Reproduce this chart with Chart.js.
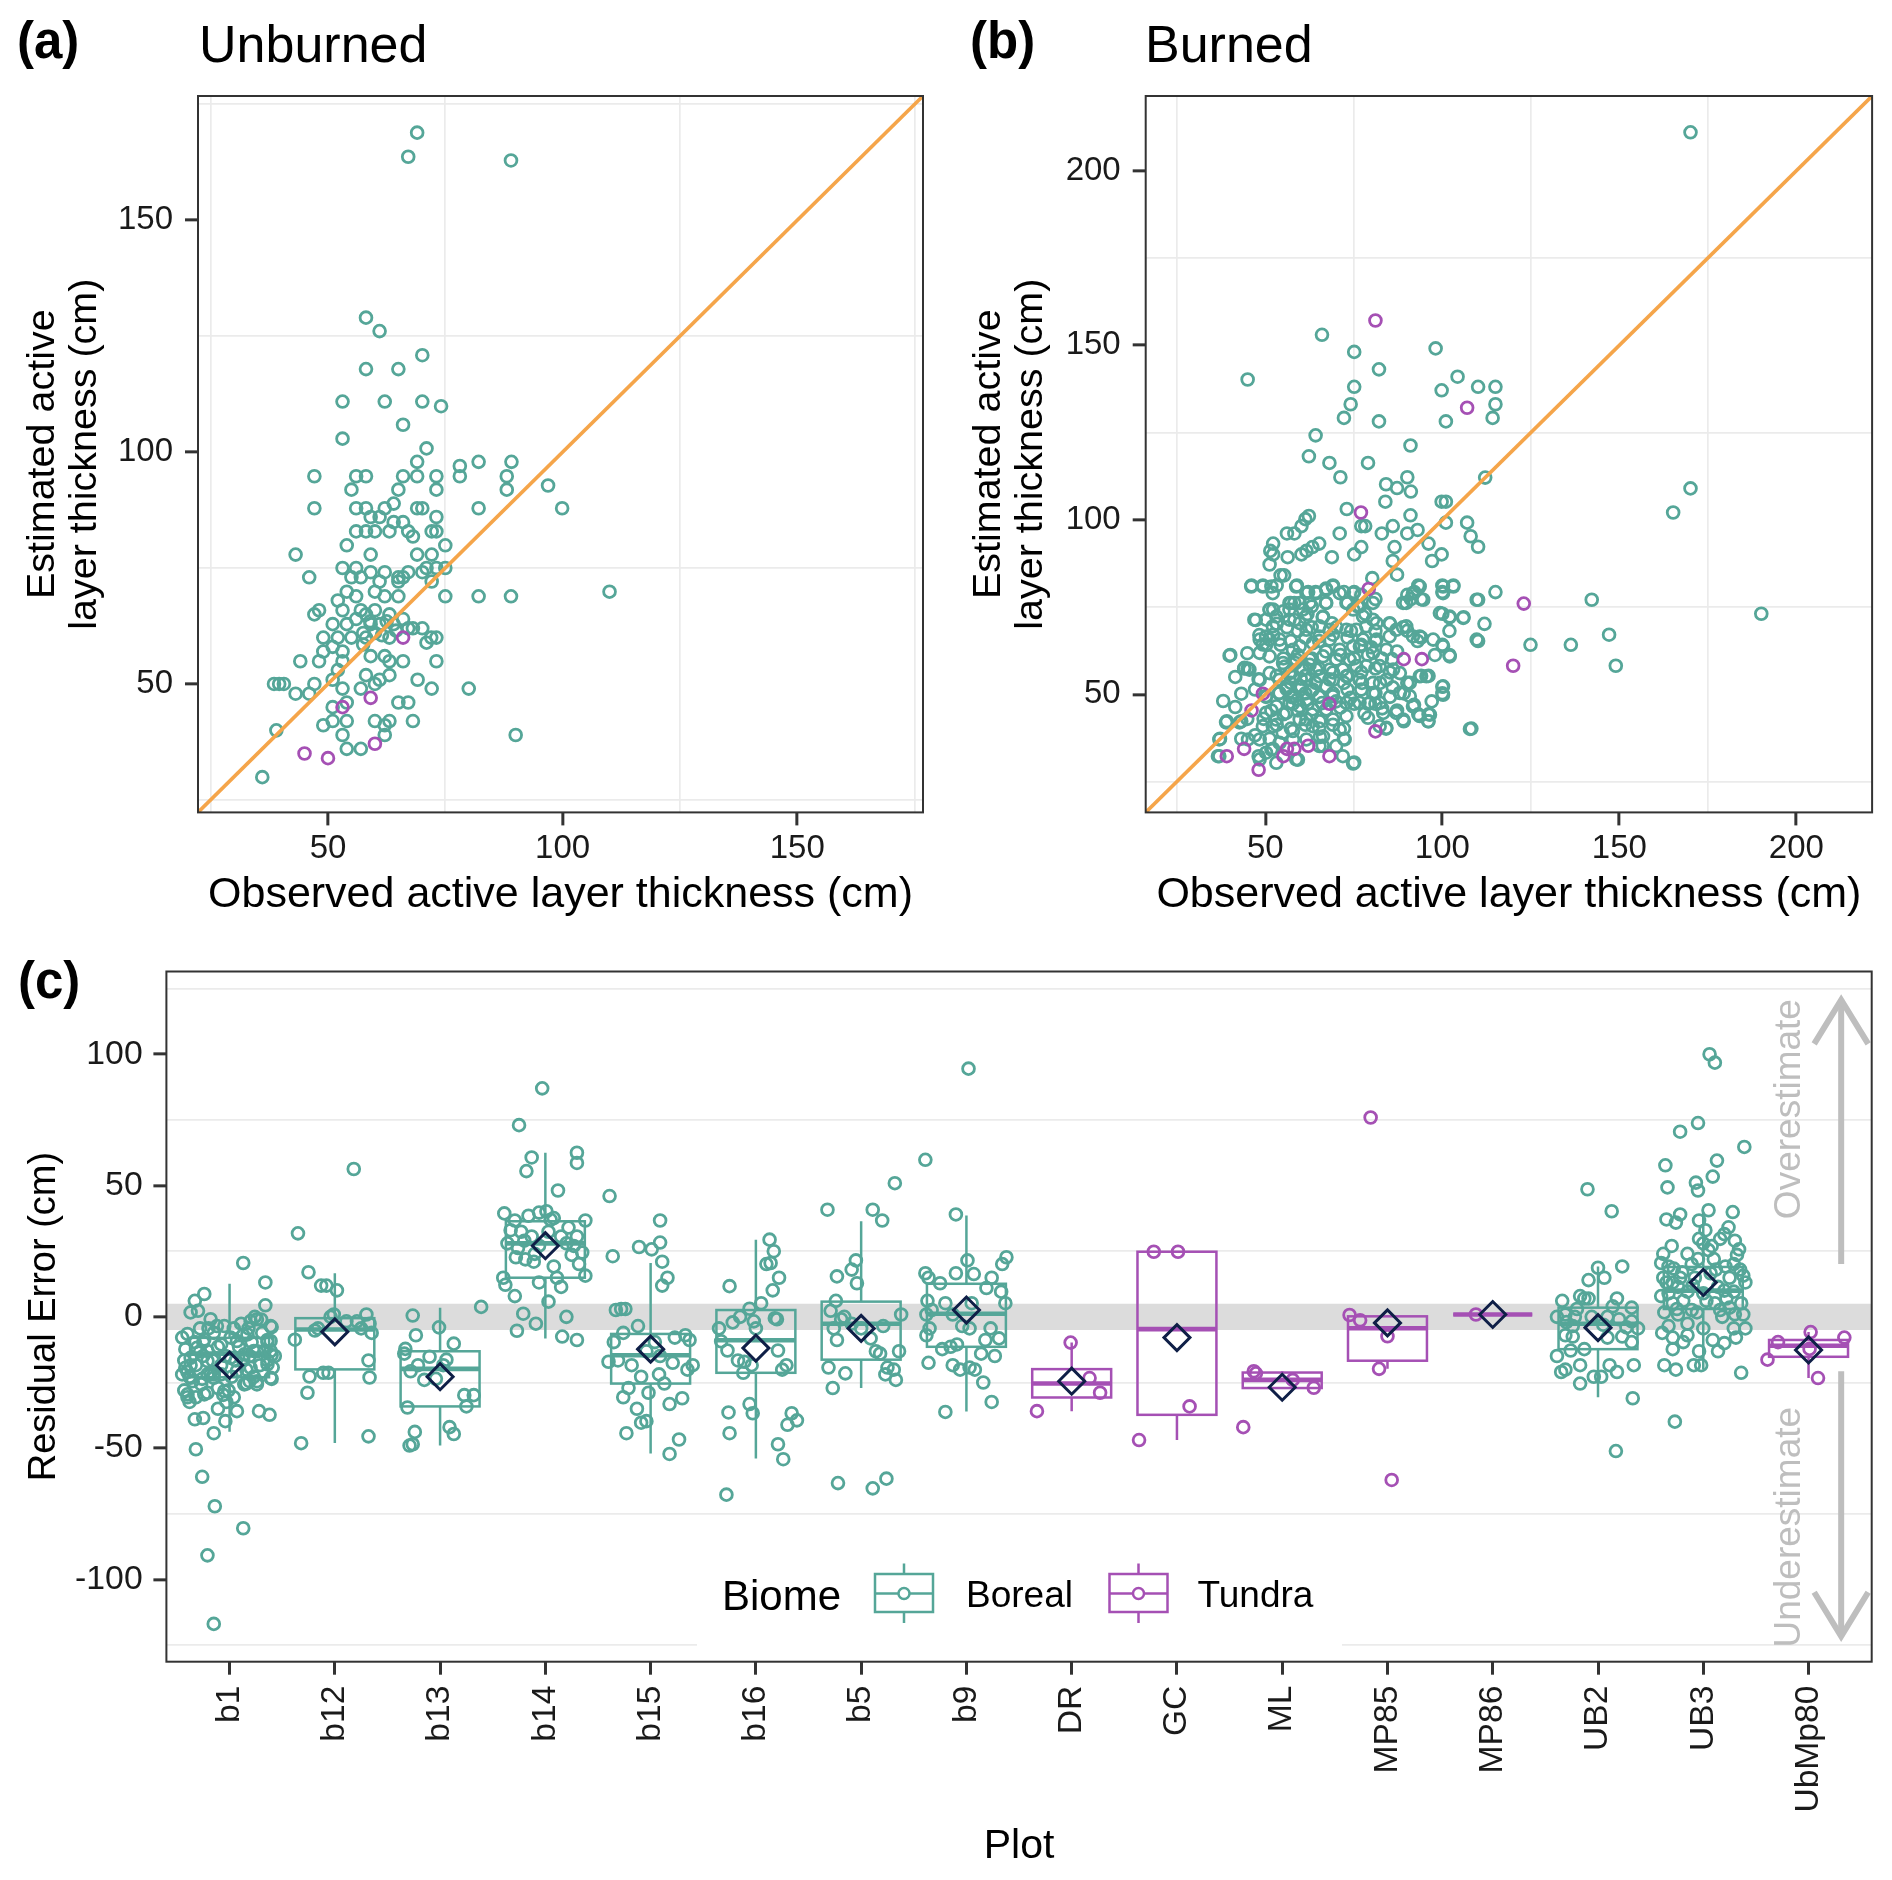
<!DOCTYPE html>
<html><head><meta charset="utf-8">
<script src="https://cdn.jsdelivr.net/npm/chart.js@4.4.1/dist/chart.umd.min.js"></script>
<style>
html,body{margin:0;padding:0;background:#fff;}
body{width:1892px;height:1880px;position:relative;overflow:hidden;}
.pane{position:absolute;}
canvas{display:block;}
</style></head><body>
<div class="pane" style="left:0;top:0;width:946px;height:940px"><canvas id="ca" width="946" height="940"></canvas></div>
<div class="pane" style="left:946px;top:0;width:946px;height:940px"><canvas id="cb" width="946" height="940"></canvas></div>
<div class="pane" style="left:0;top:940px;width:1892px;height:940px"><canvas id="cc" width="1892" height="940"></canvas></div>
<script>
// ---------------- DATA ----------------
// Panel (a) Unburned: [observed, estimated]
const unburnedBoreal = [[69,168.9],[67.1,163.7],[89,162.9],[58.1,129],[61,126.1],[70.1,120.9],[58.1,117.9],[65,117.9],[53.1,110.9],[62.1,110.9],[70.1,110.9],[74.1,109.9],[66,105.9],[53.1,102.9],[71,100.8],[69,97.9],[78.1,97],[82.1,97.9],[89.1,97.9],[78.1,94.8],[88.1,94.8],[88.1,91.9],[96.9,92.8],[99.9,87.9],[82.1,87.9],[47.1,94.8],[47.1,87.9],[56,94.8],[58.1,94.8],[55,91.9],[66,94.8],[69,94.8],[73.1,94.8],[73.1,91.9],[65,91.9],[56,87.9],[58.1,87.9],[62.1,87.9],[64,88.9],[69,87.9],[70.1,87.9],[73.1,86],[59.1,86],[61,86],[64,84.9],[66,84.9],[56,82.9],[58.1,82.9],[60,82.9],[63.1,82.9],[67.1,82.9],[68.1,81.8],[72.1,82.9],[73.1,82.9],[54,79.9],[59.1,77.9],[69,77.9],[72.1,77.9],[75,79.9],[43.1,77.9],[53.1,75],[56,75],[59.1,74.1],[62.1,74.1],[65,73],[67.1,74.1],[70.1,74.1],[71,75],[75,75],[73.1,75],[55,73],[57,73],[46,73],[61,72.1],[65,72.1],[66,73],[72.1,72.1],[75,68.9],[82.1,68.9],[89,68.9],[110,69.9],[60,69.9],[62.1,68.9],[65,68.9],[52.1,68],[54,69.9],[56,68.9],[47.1,65],[48.1,65.9],[53.1,65.9],[57,65.9],[58.1,65],[60,65.9],[63.1,65],[66,64],[51,62.9],[54,62.9],[56,64],[59.1,62.9],[61,62.9],[64,62.9],[67.1,62],[70.1,62],[49,60],[52.1,60],[55,60],[58.1,60],[60,61],[63.1,60],[68.1,62],[73.1,60],[71,58.9],[72,60],[49,57],[51,58],[53.1,57],[59.1,56],[62.1,56],[63.1,54.9],[66,54.9],[73.1,54.9],[44.1,54.9],[48.1,54.9],[52.1,53],[53.1,54.9],[51,50.9],[43.1,47.9],[46,47.9],[47.1,50],[38.5,50],[39.6,50],[40.6,50],[58.1,51.9],[61,50.9],[63.1,51.9],[60,50],[69.1,50.9],[72.1,49],[80,49],[53.1,49],[57,49],[65,46],[67.1,46],[51,45],[54,46],[51,42],[49,41.1],[54,42],[60,42],[63.1,42],[62.1,41.1],[68.1,42],[53.1,39],[62.1,39],[54,36],[57,36],[39,40],[90,39],[36,29.9],[57.5,61],[59,63.5],[61.5,60.5],[64.5,61.5],[62.5,63.5],[57.5,58.5]];
const unburnedTundra = [[53.1,45],[59.1,47],[60,37.1],[45,35],[50,34],[66,60]];

// Panel (b) Burned: [observed, estimated]
const burnedBoreal = [[170.1,211],[165.2,102.1],[170.1,109],[190.1,73.1],[142.2,77.1],[147.1,67.1],[149,58.2],[136.3,64.2],[124.9,64.2],[108.2,40.2],[45,140.2],[66,153],[75.1,148.1],[98.1,149.1],[82.1,143.1],[75.1,138.1],[99.8,137.1],[104.3,141],[110.1,138.1],[115,138.1],[115,133.1],[114.2,129.2],[101,128.2],[82.1,128.2],[74.1,133.1],[72.2,129.2],[64.2,124.2],[62.3,118.2],[68.1,116.3],[79,116.3],[91,121.3],[71.2,112.2],[90.1,112.2],[84.1,110.2],[87.2,109.1],[91.1,108.1],[83.9,105.2],[112.1,112.1],[99.8,105.2],[101,105.2],[73,103.1],[91,101.3],[107,99.2],[108,95.3],[110.1,92.3],[101,99.2],[99.8,90.1],[96.1,93.2],[97.1,88.2],[93,97.1],[90.1,96.1],[86,98.2],[82.9,96.1],[77.1,98.2],[78.2,98.2],[77.1,92.2],[75.1,90.1],[71,96.1],[68.8,89.3],[86.5,92.2],[86,88.2],[87.2,84.3],[80.2,83.3],[61.3,100.2],[62.3,101.1],[60.2,98.2],[56.1,96.1],[58.2,96.1],[65.2,93.2],[61.6,91.1],[63.3,92.2],[60.2,90.1],[56.3,89.3],[52.2,93.2],[52.2,90.1],[51.4,91.1],[51.2,87.2],[55.3,84.1],[54.3,84.1],[46.1,81.2],[49.3,81.2],[53.2,81.2],[58.9,81.2],[62.1,79.3],[64.2,79.3],[67.1,80.3],[69.1,81.2],[72.2,79.3],[75.1,79.3],[77.1,78.5],[81.1,77.3],[76.1,75.2],[78.2,73.1],[73.2,76.2],[67.1,76.2],[63.1,75.2],[58.2,76.2],[57.2,76.2],[52.2,74.3],[51.2,74.3],[47.3,71.3],[53.2,70.2],[58.2,71.3],[61.3,72.1],[66.2,72.1],[70.1,69.2],[74.2,68.2],[81.1,68.2],[85.2,70.2],[88.9,69.2],[90.1,68.2],[88.9,76.2],[91.1,77.3],[92.1,79.3],[93.2,81.2],[90.1,78.5],[94,77.3],[100,81.2],[103.1,81.2],[100,79.3],[110.1,77.1],[115,79.3],[111.9,70.2],[110.1,65.3],[106,72.1],[100,73.1],[102,72.1],[102,68.2],[100,64.2],[102,61.3],[97.9,61.3],[94,66.3],[93,65.3],[40.1,61.3],[44,57.4],[45,57.4],[48.1,54.3],[43.2,50.2],[47.1,51.4],[39.1,42.3],[43.2,42.3],[37.2,37.3],[37,32.3],[43.2,37.3],[48.1,32.3],[47.1,38.3],[51.2,37.3],[52.2,34.4],[59.2,31.3],[66.2,35.3],[72.2,37.3],[75.1,30.5],[53.2,41.3],[57.2,40.2],[61.3,41.3],[65.2,40.2],[69.1,41.3],[72.2,40.2],[51.7,45.4],[55.1,44.3],[59.2,45.4],[63.1,44.3],[67.1,45.4],[71.2,46.2],[75.1,47.3],[79,47.3],[81.1,47.3],[50.2,49.3],[53.8,50.3],[57.2,49.3],[61.3,50.3],[65.2,49.3],[69.1,50.3],[73.2,51.4],[77.1,51.4],[81.1,50.3],[85.2,49.3],[89.1,50.3],[90.1,53.3],[94,55.3],[96.1,55.3],[100,52.2],[100,50.3],[87.2,45.4],[89.1,42.3],[93.2,44.3],[96.1,44.3],[96.1,42.3],[84.1,40.2],[53.2,55.3],[57.2,56.3],[61.3,55.3],[65.2,57.4],[69.1,56.3],[73.2,55.3],[77.1,56.3],[81.1,57.4],[85.2,56.3],[55.1,60.3],[59.2,61.3],[63.1,60.3],[67.1,62.3],[71.2,61.3],[75.1,60.3],[79,61.3],[82.9,60.3],[87.2,62.3],[57.2,65.3],[61.3,66.3],[65.2,65.3],[69.1,67.1],[73.2,66.3],[77.1,64.2],[81.1,65.3],[54.3,64.2],[50.2,64.2],[52.2,67.1],[56.1,69.2],[59.2,68.2],[63.1,69.2],[57.2,53.3],[60.2,52.2],[64.2,53.3],[68.1,54.3],[72.2,53.3],[61.9,47.3],[57.7,47.3],[65.4,37.8],[79,43.3],[77.3,53.3],[82.4,53.3],[85.8,60.1],[79.9,63.5],[68.8,70.4],[61.9,73],[55.1,73.8],[48.3,67],[44.9,61.8],[41.5,55],[38.1,48.1],[41.5,46.4],[44.9,43],[49.5,43],[55.5,58],[58.5,59],[60.5,57],[62.5,58.5],[58,55],[60,54.5],[56,51.5],[59,48.5],[63,51],[66,47.5],[70,48],[74,49],[78,44.5],[83,46],[86,52],[92,47],[97,48],
[39.9,61.1],[44.1,57.6],[45.5,57.1],[48.4,54.2],[38.9,42],[42.7,42],[37,37.1],[36.6,32.3],[48.4,31.4],[45.1,37.1],[48.4,37.1],[51.7,34.2],[74.8,30.2],[72.4,37.1],[71,39.9],[66.3,38],[63.4,40.9],[59.7,42.8],[55.9,44.7],[53.1,46.6],[50.2,44.7],[49.3,40.9],[52.1,40.9],[54.9,39],[57.8,39.5],[61.6,42.8],[65.3,42.3],[69.1,42.8],[72.9,43.8],[50.2,49.5],[54,50.4],[57.8,49.5],[61.6,48.5],[65.3,49.5],[69.1,49.5],[72.9,47.6],[76.6,47.6],[79.5,47.6],[82.3,47.6],[54,54.2],[57.8,55.2],[61.6,54.2],[65.3,55.2],[69.1,54.2],[72.9,55.2],[76.6,54.2],[80.4,53.3],[84.2,54.2],[88,56.1],[90.8,53.3],[93.6,55.2],[95.5,55.2],[88,50.4],[90.8,49.5],[91.7,46.6],[87,44.7],[88.9,42.8],[93.6,43.8],[96.5,44.2],[96,42.3],[100.2,52.3],[100.2,49.9],[83.3,44.7],[82.3,40.9],[84.2,40.4],[80.4,50.4],[78.5,58.1],[82.3,58.1],[86.1,57.1],[80.4,61.9],[84.2,62.8],[74.8,63.8],[76.7,63.8],[71,62.8],[68.2,65.7],[65.3,66.6],[63.4,64.7],[59.7,63.8],[57.8,62.8],[54,65.7],[51.2,65.7],[49.3,64.3],[48.4,61.9],[51.2,60.9],[50.2,66.6],[52.1,69.5],[50.2,71.4],[53.1,72.3],[56.8,71.4],[59.7,70.4],[61.6,68.5],[65.3,69.5],[68.2,68.5],[72.9,68.5],[75.7,68.5],[78.5,69.5],[81.4,70.4],[85.1,70.4],[87,68.5],[89.8,69.5],[91.7,66.6],[93.6,66.6],[97.4,65.7],[100.2,63.8],[102.1,60.9],[107.8,40.1],[85.1,66.6],[81.4,65.7],[77.6,65.7],[73.8,60],[70,60],[66.3,60.9],[62.5,60],[58.7,60],[55,59],[56.8,56.1],[60.6,57.1],[64.4,57.1],[68.2,57.1],[71.9,57.1],[75.7,58.1],[51.2,56.1],[46,80.9],[49.3,80.9],[51.7,80.9],[52.1,79],[58.7,80.9],[61.6,79],[64.4,79],[67.2,80],[69.1,80.9],[71,79],[74.8,79],[56.8,76.2],[59.7,76.2],[62.5,76.2],[67.2,76.2],[72.9,76.2],[76.7,75.2],[80.4,76.2],[89.8,76.2],[91.7,79],[94.6,77.1],[93.6,80.9],[100.2,80.9],[103.1,80.9],[100.2,79],[51.2,74.3],[56.8,74.3],[60.6,74.3],[66.3,72.3],[74.8,74.3],[77.6,72.3],[80.4,71.4],[99.3,73.3],[102.1,72.3],[105.9,71.9],[109.7,77.1],[109.7,65.7],[46.9,71.4],[48.4,65.7],[55.9,52.3],[59.7,52.3],[63.4,51.4],[67.2,52.3],[59.7,46.6],[63.4,45.7],[67.2,45.7],[56.8,47.6],[53.1,42.8],[57.8,37.1],[61.6,37.1],[65.3,35.2],[70,35.2],[54,36.1],[50.2,33.3],[53.1,30.4],[58.7,31.4],[71.9,32.3]];
const burnedTundra = [[81.1,157.1],[107,132.1],[77,102.1],[79.2,80.2],[123,76],[89.1,60.1],[94.2,60.1],[120,58.2],[49.3,50.2],[46.1,45.4],[68.1,47.3],[39.1,32.3],[44,34.4],[48.1,28.4],[56.1,34.4],[55.1,32.3],[58.2,34.4],[62.1,35.3],[68.1,32.3],[81.1,39.4]];

// Panel (c) plots
const plots = ['b1','b12','b13','b14','b15','b16','b5','b9','DR','GC','ML','MP85','MP86','UB2','UB3','UbMp80'];
const biome = ['Boreal','Boreal','Boreal','Boreal','Boreal','Boreal','Boreal','Boreal','Tundra','Tundra','Tundra','Tundra','Tundra','Boreal','Boreal','Tundra'];
const boxQ1      = [-23, -20, -34.1, 14.9, -25.4, -21.3, -16.3, -11.4, -30.7, -37.3, -27.1, -16.7, 0.9, -12.3, 3, -15.2];
const boxMedian  = [-14, -4.8, -19.8, 28, -14.6, -8.9, -2.6, 1.2, -25.4, -4.65, -24, -4.35, 0.9, -2.6, 10, -11];
const boxQ3      = [-8, -0.5, -13.1, 36.4, -6.5, 2.6, 5.8, 12.6, -19.9, 24.8, -21.2, 0.2, 0.9, 3.5, 19, -8.8];
const whiskerLow = [-43.7, -48, -49, -8.2, -52, -53.9, -27.1, -36, -35.9, -46.9, -27.1, -19.8, 0.9, -30.6, -20, -23.3];
const whiskerHigh= [12.6, 16.6, 3.5, 62.5, 20.5, 29.4, 36.4, 38.6, -9.8, 24.8, -20.7, 0.7, 0.9, 19.2, 40, -5.8];
const meanResid  = [-18.4, -5.7, -22.8, 27.1, -12.3, -11.9, -4.4, 2.6, -24.5, -7.9, -26.8, -2.3, 0.9, -4.1, 13.1, -12.6];
const bandRange = [-5, 5];

// residuals per plot: [jitter offset, residual (cm)]
const res_b1 = [[.13,20.5],[.34,13.1],[.34,4.4],[-.24,8.7],[-.33,6.1],[-.37,1.7],[-.3,2.3],[-.18,-.9],[-.4,-6.5],[.4,-3.9],[.26,-.9],[.36,-9.6],[.4,-14.5],[.4,-23.6],[.26,-24.5],[.16,-25.4],[.28,-35.9],[.38,-37.3],[.07,-35.9],[-.04,-39.7],[-.11,-35],[-.15,-44.3],[-.25,-38.5],[-.33,-39],[-.38,-32.4],[-.4,-30.6],[-.32,-50.4],[-.26,-60.9],[-.14,-72.1],[.13,-80.5],[-.21,-90.8],[-.15,-116.9],[-.45,-7.9],[-.42,-12.3],[-.43,-16.6],[-.4,-21],[-.38,-22.8],[-.35,-24.5],[-.32,-18.4],[-.28,-13.1],[-.25,-9.6],[-.2,-4.4],[-.15,-6.1],[-.11,-11.4],[-.16,-16.6],[-.18,-21.9],[-.11,-27.1],[-.06,-29.7],[-.01,-28],[.02,-22.8],[.06,-16.6],[.09,-11.4],[.13,-7],[.18,-4.4],[.21,-9.6],[.19,-14.9],[.16,-20.1],[.23,-22.8],[.29,-18.4],[.33,-13.1],[.36,-8.8],[.31,-6.1],[.43,-14.9],[.41,-19.3],[.11,-2.6],[.24,0],[.01,-7.9],[-.04,-14.9],[-.25,-14.9],[-.33,-9.6],[-.37,-18.4],[.04,-30.6],[-.03,-32.4],[-.26,-23.6],[-.21,-28.9],[-.45,-21.9],[-.43,-28],[-.32,-30.6],[-.08,-18.4],[.13,-16.6],[.26,-13.1],[-.15,-21.9],[.19,-24.5],[-.28,-4.4],[.36,-16.6],[.04,-4.4],
  [-.24,-8.6],[-.12,-3.5],[-.05,-3.5],[.2,-1.6],[.3,-1],[.39,-3.5],[-.31,-11.8],[-.21,-13],[-.08,-10.5],[.07,-9.2],[.17,-6.7],[.39,-9.2],[.39,-13],[.23,-13],[.14,-14.3],[.01,-15.6],[-.21,-16.8],[-.37,-15.6],[-.42,-19.4],[-.37,-23.2],[-.21,-21.9],[-.08,-21.9],[.07,-20.6],[.2,-19.4],[.36,-18.1],[.39,-23.2],[.26,-25.7],[.14,-25.7],[-.15,-23.2],[-.27,-25.7],[-.4,-29.5],[-.24,-29.5],[-.05,-28.3]];
const res_b12 = [[.18,56.3],[-.35,31.8],[-.25,17],[-.13,11.9],[-.08,11.9],[.02,10.1],[-.38,-8.7],[-.24,-22.7],[-.26,-28.9],[-.11,-21.3],[-.06,-21.3],[.33,-23.1],[.32,-16.6],[-.32,-48.1],[.32,-45.5],[-.04,0],[-.01,.9],[-.19,-5.2],[.11,-1.7],[.21,-1.7],[.3,.9],[.33,-2.6],[.25,-4.4],[.35,-6.1],[-.16,-4.4]];
const res_b13 = [[-.26,.5],[-.01,-4],[-.23,-7],[.13,-10.2],[.39,3.8],[-.33,-12.2],[-.34,-14],[-.21,-18.4],[-.28,-20.7],[-.1,-15.2],[.06,-16.3],[-.15,-24],[-.31,-34.5],[.23,-29.8],[.32,-29.8],[.25,-34.1],[.09,-42],[.13,-44.6],[-.24,-43.8],[-.29,-49],[-.26,-48.5],[-.04,-23.6],[.03,-18.4]];
const res_b14 = [[-.03,87],[-.25,73],[-.13,60.7],[-.18,55.5],[.3,62.5],[.3,58.6],[.12,48.1],[-.39,39.4],[-.29,36.7],[-.16,38.5],[-.06,39.7],[.01,40.2],[.08,37.6],[.38,36.7],[.3,30.6],[.35,24.5],[-.36,28],[-.26,26.2],[-.19,21.9],[-.28,22.7],[-.11,21],[.08,19.2],[.2,28],[.25,23.6],[.38,15.7],[-.4,14.9],[-.38,12.2],[-.06,13.1],[.11,14.9],[.15,11.4],[-.29,7.9],[-.21,1.2],[.03,5.8],[.2,0],[-.27,-5.3],[-.09,-2.6],[.16,-7.5],[.3,-8.8],[-.13,30.6],[.03,32.4],[-.23,32.4],[-.06,27.1],[.15,30.6],[.32,20.1],[-.33,33],[.22,34],[-.1,24],[.27,27],[-.2,29],[.05,37]];
const res_b15 = [[-.39,46],[-.36,23.1],[-.11,26.6],[.01,25.7],[.09,36.7],[.09,28.3],[.11,21],[.16,14.9],[.11,11.9],[-.33,2.6],[-.28,3],[-.24,3],[-.12,-3.5],[-.35,-9.6],[-.26,-6.1],[-.4,-17.1],[-.31,-16.6],[-.18,-18.4],[-.09,-22.8],[-.21,-27.1],[-.26,-30.6],[-.13,-35],[-.09,-40.3],[-.23,-44.3],[-.04,-39.7],[.18,-33.2],[.3,-31],[.27,-46.7],[.18,-52.2],[.23,-7.9],[.33,-7],[.37,-8.8],[.4,-18.4],[.21,-17.5],[.35,-20.1],[.13,-25.4],[.08,-21.9],[-.04,-13.1],[.04,-9.6],[-.02,-28.9],[.09,-14.9]];
const res_b16 = [[.13,29.4],[.17,25],[.1,20.1],[.14,20.5],[.22,14.9],[.16,10.1],[-.25,11.7],[.05,5.2],[-.06,3.1],[-.15,0],[.2,-.9],[-.22,-2.1],[-.35,-4.4],[-.02,-1.7],[0,-4.4],[.18,-.5],[-.33,-9.3],[-.27,-12.8],[-.17,-16.6],[-.11,-17.1],[.21,-12.8],[.29,-18.4],[.25,-20.1],[-.12,-21.3],[-.04,-18.4],[-.06,-33.2],[-.03,-36.7],[-.26,-36.4],[-.25,-44.3],[.34,-36.7],[.3,-41.1],[.39,-39.4],[.21,-48.5],[.26,-54.2],[-.28,-67.7]];
const res_b5 = [[-.32,40.8],[.11,40.8],[.2,36.7],[.32,50.9],[-.05,21.5],[-.09,18],[-.04,12.8],[-.23,15.4],[-.24,6.1],[-.29,2.3],[-.19,-.9],[-.16,0],[-.09,-2.6],[.21,-3.5],[.38,.9],[.36,-13.1],[-.26,-4.4],[-.23,-8.8],[.09,-8.2],[.14,-13.1],[.18,-14],[.25,-19.3],[.31,-20.1],[.23,-21.9],[.33,-24],[-.31,-19.3],[-.15,-21.5],[-.27,-27.1],[-.22,-63.3],[.11,-65.3],[.24,-61.6],[0,-4.4]];
const res_b9 = [[.02,94.5],[-.39,59.8],[-.1,39],[.01,21.5],[.38,22.7],[.34,20.1],[-.1,16.6],[.07,16.3],[.24,14.9],[-.39,16.6],[-.36,14.9],[-.25,12.8],[.19,11],[.33,9.6],[.37,5.2],[-.37,6.1],[-.33,2.6],[-.2,5.2],[.05,5.2],[-.38,.9],[-.13,.9],[-.04,-3.5],[.03,-4.4],[.23,-4.4],[-.35,-4.4],[-.38,-7],[.18,-8.8],[.31,-8.2],[-.23,-12.3],[-.15,-11.4],[-.09,-10.5],[.14,-14],[.27,-14.9],[-.36,-17.5],[-.13,-18.4],[-.06,-20.1],[.03,-19.3],[.08,-20.1],[.16,-25],[.24,-32.4],[-.2,-36.2]];
const res_DR = [[-.01,-9.8],[.17,-23.3],[.27,-28.9],[-.33,-35.9]];
const res_GC = [[-.22,24.8],[.01,24.8],[.12,-34.1],[-.36,-46.9]];
const res_ML = [[-.27,-20.7],[-.25,-21.5],[.1,-24],[.3,-27],[-.37,-42]];
const res_MP85 = [[-.16,75.9],[-.36,.7],[-.26,-1.3],[0,-7.4],[-.08,-19.8],[.04,-62.1]];
const res_MP86 = [[-.16,.9]];
const res_UB2 = [[-.1,48.6],[.13,40.2],[.23,19.2],[0,18.7],[-.09,14],[.06,14.9],[-.17,7.9],[-.13,7],[-.09,7],[-.34,6.1],[.18,7],[.32,3.5],[-.39,0],[-.31,.9],[-.22,0],[-.06,0],[.09,0],[.2,-.9],[.32,-1.7],[.38,-4.4],[-.24,-3.5],[-.31,-7],[-.24,-7.5],[.09,-7.9],[.23,-7.5],[.32,-9.6],[-.13,-12.3],[-.26,-12.8],[-.39,-14.9],[-.17,-18.4],[-.31,-20.1],[-.35,-21],[.11,-18.4],[.18,-21],[.34,-18.4],[-.04,-22.8],[.03,-22.8],[-.17,-25.4],[.33,-31],[.17,-51.1],[-.2,3],[.27,-4],[.05,-3],[-.3,-2],[.14,4]];
const res_UB3 = [[.06,100],[.11,96.8],[-.05,73.8],[-.22,70.5],[.39,64.7],[.13,59.5],[-.36,57.7],[.09,53.4],[-.34,49.3],[-.07,51.1],[-.05,48.1],[.05,40.6],[.28,39.9],[-.35,37.1],[-.26,35.9],[-.22,39],[-.04,36.7],[.24,34.1],[.2,31.5],[.16,29.7],[.34,25.7],[-.04,29.7],[0,28],[.05,25.4],[.32,23.6],[-.4,20.5],[-.33,19.2],[-.28,18.4],[-.11,20.1],[.21,19.2],[.38,15.7],[.4,13.1],[-.35,13.1],[-.24,11.4],[-.15,9.6],[.14,11.4],[.29,9.6],[-.4,7.9],[-.29,5.2],[-.19,6.1],[.11,5.2],[.36,5.2],[.25,3.5],[-.37,1.7],[-.24,.9],[-.06,1.7],[.18,0],[.38,.9],[-.33,-3.5],[-.15,-2.6],[0,-4.4],[.29,-4.4],[.4,-4.4],[-.39,-6.1],[-.29,-7.9],[-.19,-9.6],[.09,-8.8],[.31,-7.9],[-.29,-12.3],[-.04,-13.1],[.14,-13.1],[-.37,-18.4],[-.26,-20.1],[-.09,-18.4],[-.02,-18.4],[.36,-21.3],[-.27,-39.9],[-.29,13.1],[-.08,14.9],[.07,16.6],[.25,14.9],[-.22,14.9],[.29,20.1],[-.38,14.9],[.03,6.1],[-.11,2.6],[.16,2.6],[.1,22],[-.15,24],[.2,10],[-.3,27],[.3,29],[0,9],[-.2,17],[.12,18],[-.33,9],[-.1,12],[.22,7],[.35,18],[-.05,22],[.08,27],[-.25,3],[.3,1],[-.15,-7],[.2,-10],[-.38,24],[.02,33]];
const res_UbMp80 = [[-.39,-16.3],[-.29,-9.6],[.02,-5.8],[.34,-7.9],[.09,-23.3],[.01,-12.2]];
const plotResiduals = [res_b1,res_b12,res_b13,res_b14,res_b15,res_b16,res_b5,res_b9,res_DR,res_GC,res_ML,res_MP85,res_MP86,res_UB2,res_UB3,res_UbMp80];

// axis ticks
const ticksA = [25,50,75,100,125,150,175];
const majorA = [50,100,150];
const limA = [22.3, 176.8];
const ticksB = [25,50,75,100,125,150,175,200];
const majorB = [50,100,150,200];
const limB = [16.2, 221.4];
const ticksC = [-125,-100,-75,-50,-25,0,25,50,75,100,125];
const majorC = [-100,-50,0,50,100];
const limC = [-131.3, 131.5];
const oneToOne = [0, 250];

// ---------------- STYLE ----------------
const FONT = "'Liberation Sans', Arial, Helvetica, sans-serif";
const TEAL = '#55A698', PURPLE = '#A550B4', NAVY = '#0F1F47', ORANGE = '#F5A54A';
const GRID = '#EBEBEB', DARK = '#333333', TXT = '#1A1A1A', ANNO = '#BEBEBE';
const NONE = 'rgba(0,0,0,0)';
const PT_R = 5.9, PT_W = 2.8;
Chart.defaults.font.family = FONT;
Chart.defaults.color = TXT;

const decoPlugin = {
  id: 'deco',
  afterDraw(chart, args, o) {
    const {ctx, chartArea: a} = chart;
    ctx.save();
    ctx.strokeStyle = DARK; ctx.lineWidth = 2;
    ctx.strokeRect(a.left, a.top, a.right - a.left, a.bottom - a.top);
    ctx.fillStyle = '#000';
    ctx.textBaseline = 'alphabetic'; ctx.textAlign = 'left';
    if (o.tag) { ctx.font = 'bold 51px ' + FONT; ctx.fillText(o.tag, o.tagX, o.tagY); }
    if (o.title) { ctx.font = '52px ' + FONT; ctx.fillText(o.title, o.titleX, o.titleY); }
    ctx.restore();
  }
};

function pairs(arr) { return arr.map(([x, y]) => ({x, y})); }

function axisCommon(ticks, major, lim, afterFit, titleText, titleFont, titlePad, tickPad) {
  return {
    type: 'linear', min: lim[0], max: lim[1],
    afterBuildTicks: s => { s.ticks = ticks.map(v => ({value: v})); },
    afterFit,
    ticks: { autoSkip: false, maxRotation: 0, minRotation: 0, padding: tickPad, font: {size: 33}, color: TXT,
             callback: v => major.includes(v) ? String(v) : '' },
    grid: { color: c => (c.tick && major.includes(c.tick.value)) ? NONE : GRID, lineWidth: 1.7,
            tickColor: c => (c.tick && major.includes(c.tick.value)) ? DARK : NONE,
            tickLength: 13, tickWidth: 3, drawTicks: true },
    border: { display: false },
    title: { display: true, text: titleText, font: titleFont, padding: titlePad, color: '#000' }
  };
}

function scatterChart(id, boreal, tundra, ticks, major, lim, yW, padRight, deco) {
  return new Chart(document.getElementById(id), {
    type: 'scatter',
    data: { datasets: [
      { type: 'line', data: pairs([[oneToOne[0], oneToOne[0]], [oneToOne[1], oneToOne[1]]]), borderColor: ORANGE, borderWidth: 3.6,
        pointRadius: 0, fill: false, clip: 0 },
      { data: pairs(tundra), pointStyle: 'circle', radius: PT_R, borderWidth: PT_W, borderColor: PURPLE, backgroundColor: NONE },
      { data: pairs(boreal), pointStyle: 'circle', radius: PT_R, borderWidth: PT_W, borderColor: TEAL, backgroundColor: NONE }
    ]},
    options: {
      responsive: false, animation: false, devicePixelRatio: 1, events: [],
      layout: { padding: { left: 0, top: 96, right: padRight, bottom: 0 } },
      plugins: { legend: { display: false }, tooltip: { enabled: false }, deco },
      scales: {
        x: axisCommon(ticks, major, lim, s => { s.height = 127.6; }, 'Observed active layer thickness (cm)',
                      {size: 43, lineHeight: 1.2}, {top: 0, bottom: 19}, 4),
        y: axisCommon(ticks, major, lim, s => { s.width = yW; }, ['Estimated active', 'layer thickness (cm)'],
                      {size: 39.5, lineHeight: 1.06}, {top: 22, bottom: 0}, 12)
      }
    },
    plugins: [decoPlugin]
  });
}

scatterChart('ca', unburnedBoreal, unburnedTundra, ticksA, majorA, limA, 198, 23,
  { tag: '(a)', tagX: 17, tagY: 57.6, title: 'Unburned', titleX: 199, titleY: 61.7 });
scatterChart('cb', burnedBoreal, burnedTundra, ticksB, majorB, limB, 199.7, 19.9,
  { tag: '(b)', tagX: 24, tagY: 57.6, title: 'Burned', titleX: 199, titleY: 61.7 });

// ---------------- PANEL C ----------------
const BOXW = 0.375;
const boxPlugin = {
  id: 'boxes',
  beforeDatasetsDraw(chart) {
    const {ctx, chartArea: a, scales: {x, y}} = chart;
    ctx.save();
    ctx.beginPath(); ctx.rect(a.left, a.top, a.right - a.left, a.bottom - a.top); ctx.clip();
    const yt = y.getPixelForValue(bandRange[1]), yb = y.getPixelForValue(bandRange[0]);
    ctx.fillStyle = '#DCDCDC'; ctx.fillRect(a.left, yt, a.right - a.left, yb - yt);
    plots.forEach((p, i) => {
      const col = biome[i] === 'Boreal' ? TEAL : PURPLE;
      const cx = x.getPixelForValue(i + 1), xl = x.getPixelForValue(i + 1 - BOXW), xr = x.getPixelForValue(i + 1 + BOXW);
      const y1 = y.getPixelForValue(boxQ1[i]), y3 = y.getPixelForValue(boxQ3[i]);
      const ym = y.getPixelForValue(boxMedian[i]);
      const wl = y.getPixelForValue(whiskerLow[i]), wh = y.getPixelForValue(whiskerHigh[i]);
      ctx.strokeStyle = col; ctx.lineWidth = 2.5;
      ctx.beginPath();
      ctx.moveTo(cx, y3); ctx.lineTo(cx, wh);
      ctx.moveTo(cx, y1); ctx.lineTo(cx, wl);
      ctx.stroke();
      ctx.strokeRect(xl, y3, xr - xl, y1 - y3);
      ctx.lineWidth = 4.6;
      ctx.beginPath(); ctx.moveTo(xl, ym); ctx.lineTo(xr, ym); ctx.stroke();
    });
    ctx.restore();
  },
  afterDatasetsDraw(chart) {
    const {ctx, chartArea: a, scales: {x, y}} = chart;
    ctx.save();
    // legend
    ctx.fillStyle = '#fff';
    ctx.fillRect(697, 605, 645, a.bottom - 1.5 - 605);
    ctx.fillStyle = '#000'; ctx.textBaseline = 'alphabetic'; ctx.textAlign = 'left';
    ctx.font = '42px ' + FONT; ctx.fillText('Biome', 722, 669.7);
    const keys = [['Boreal', TEAL, 875, 966], ['Tundra', PURPLE, 1109.5, 1197.5]];
    keys.forEach(([lab, col, bx, tx]) => {
      ctx.strokeStyle = col; ctx.lineWidth = 2.5;
      const w = 58, top = 634, bot = 672, mid = 653.6, cx = bx + w / 2;
      ctx.strokeRect(bx, top, w, bot - top);
      ctx.beginPath();
      ctx.moveTo(cx, top); ctx.lineTo(cx, 623.5);
      ctx.moveTo(cx, bot); ctx.lineTo(cx, 683);
      ctx.moveTo(bx, mid); ctx.lineTo(bx + w, mid);
      ctx.stroke();
      ctx.beginPath(); ctx.fillStyle = '#fff'; ctx.arc(cx, mid, 5.5, 0, Math.PI * 2); ctx.fill(); ctx.stroke();
      ctx.fillStyle = '#000'; ctx.font = '37px ' + FONT; ctx.fillText(lab, tx, 667.4);
    });
    // over/under estimate annotation
    const ax = x.getPixelForValue(16.31);
    const arrows = [[20.1, 120.7], [-20.7, -121.6]];
    ctx.strokeStyle = ANNO; ctx.lineWidth = 6; ctx.lineCap = 'butt'; ctx.lineJoin = 'miter';
    arrows.forEach(([v0, v1]) => {
      const p0 = y.getPixelForValue(v0), p1 = y.getPixelForValue(v1);
      const dir = p1 < p0 ? 1 : -1;
      ctx.beginPath(); ctx.moveTo(ax, p0); ctx.lineTo(ax, p1); ctx.stroke();
      ctx.beginPath(); ctx.moveTo(ax - 27, p1 + dir * 44); ctx.lineTo(ax, p1); ctx.lineTo(ax + 27, p1 + dir * 44); ctx.stroke();
    });
    const tx = x.getPixelForValue(15.82);
    ctx.fillStyle = ANNO; ctx.font = '37px ' + FONT; ctx.textAlign = 'center'; ctx.textBaseline = 'middle';
    [['Overestimate', 79.1], ['Underestimate', -80.1]].forEach(([t, v]) => {
      ctx.save(); ctx.translate(tx, y.getPixelForValue(v)); ctx.rotate(-Math.PI / 2); ctx.fillText(t, 0, 0); ctx.restore();
    });
    ctx.restore();
  }
};

function jitterPoints(name) {
  const pts = [];
  plots.forEach((p, i) => {
    if (biome[i] !== name) return;
    plotResiduals[i].forEach(([j, v]) => pts.push({x: i + 1 + j, y: v}));
  });
  return pts;
}

new Chart(document.getElementById('cc'), {
  type: 'scatter',
  data: { datasets: [
    { data: plots.map((p, i) => ({x: i + 1, y: meanResid[i]})), pointStyle: 'rectRot', radius: 13, borderWidth: 3,
      borderColor: NAVY, backgroundColor: NONE },
    { data: jitterPoints('Tundra'), pointStyle: 'circle', radius: PT_R, borderWidth: PT_W, borderColor: PURPLE, backgroundColor: NONE },
    { data: jitterPoints('Boreal'), pointStyle: 'circle', radius: PT_R, borderWidth: PT_W, borderColor: TEAL, backgroundColor: NONE }
  ]},
  options: {
    responsive: false, animation: false, devicePixelRatio: 1, events: [],
    layout: { padding: { left: 0, top: 31.5, right: 20.3, bottom: 0 } },
    plugins: { legend: { display: false }, tooltip: { enabled: false },
               deco: { tag: '(c)', tagX: 18, tagY: 58 } },
    scales: {
      x: {
        type: 'linear', min: 0.4, max: plots.length + 0.6,
        afterBuildTicks: s => { s.ticks = plots.map((p, i) => ({value: i + 1})); },
        afterFit: s => { s.height = 218.3; },
        ticks: { autoSkip: false, maxRotation: 90, minRotation: 90, padding: 11, font: {size: 33.6}, color: TXT,
                 callback: v => plots[v - 1] },
        grid: { drawOnChartArea: false, tickColor: DARK, tickLength: 13, tickWidth: 3 },
        border: { display: false },
        title: { display: true, text: 'Plot', font: {size: 41, lineHeight: 1.2}, padding: {top: 0, bottom: 9}, color: '#000' }
      },
      y: {
        type: 'linear', min: limC[0], max: limC[1],
        afterBuildTicks: s => { s.ticks = ticksC.map(v => ({value: v})); },
        afterFit: s => { s.width = 166.4; },
        ticks: { autoSkip: false, padding: 10.7, font: {size: 33.8}, color: TXT,
                 callback: v => majorC.includes(v) ? String(v) : '' },
        grid: { color: c => (c.tick && majorC.includes(c.tick.value)) ? NONE : GRID, lineWidth: 1.7,
                tickColor: c => (c.tick && majorC.includes(c.tick.value)) ? DARK : NONE, tickLength: 13, tickWidth: 3 },
        border: { display: false },
        title: { display: true, text: 'Residual Error (cm)', font: {size: 38, lineHeight: 1.2}, padding: {top: 22, bottom: 0}, color: '#000' }
      }
    }
  },
  plugins: [boxPlugin, decoPlugin]
});
</script>
</body></html>
